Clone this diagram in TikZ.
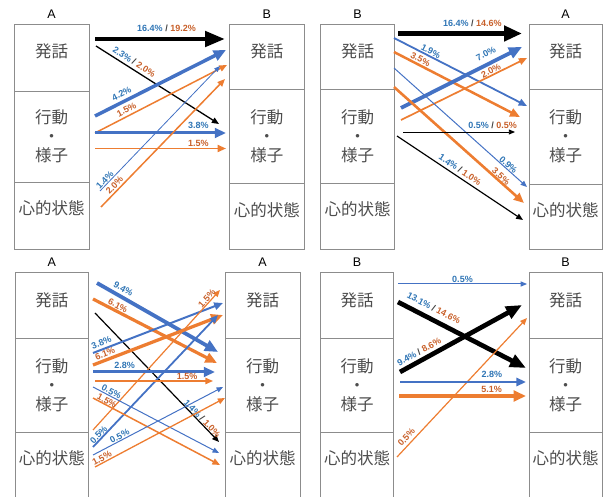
\documentclass[tikz,border=0pt]{standalone}
\usepackage{fontspec}
\usetikzlibrary{arrows.meta}
\newfontfamily\cjkfont{Noto Sans CJK JP}
\newfontfamily\lblfont{Liberation Sans}
\definecolor{lineblue}{HTML}{4472C4}
\definecolor{lineorange}{HTML}{ED7D31}
\definecolor{textblue}{HTML}{2F75B5}
\definecolor{textorange}{HTML}{C8602A}
\definecolor{slashgray}{HTML}{404040}
\definecolor{boxgray}{HTML}{8C8C8C}
\definecolor{cjkgray}{HTML}{4D4D4D}
\newcommand\pcB[1]{\textcolor{textblue}{#1\%}}
\newcommand\pcO[1]{\textcolor{textorange}{#1\%}}
\newcommand\slsh{\ \textcolor{slashgray}{/}\ }
\tikzset{
  fl/.style={-{Triangle[length=4pt 2.4, width=3pt 2.2]}},
  bw/.style={fl, draw=lineblue, line width=#1pt},
  ow/.style={fl, draw=lineorange, line width=#1pt},
  kw/.style={fl, draw=black, line width=#1pt},
  lbl/.style={font=\lblfont\bfseries\fontsize{9}{10}\selectfont, sloped, above, inner xsep=0pt},
  boxline/.style={draw=boxgray, line width=0.9pt},
  hdr/.style={font=\lblfont\fontsize{12.5}{14}\selectfont, inner sep=0pt},
  cjk/.style={font=\cjkfont\fontsize{16.5}{19}\selectfont, text=cjkgray, align=center, inner sep=0pt}
}
\newcommand\colbox[8]{%
  \draw[boxline] (#2,#4) rectangle (#3,#7);
  \draw[boxline] (#2,#5) -- (#3,#5);
  \draw[boxline] (#2,#6) -- (#3,#6);
  \node[hdr] (#1h) at ({(#2+#3)/2},{#4-10}) {#8};
  \node[cjk] (#1a) at ({(#2+#3)/2},{#4+27.5}) {発話};
  \node[cjk] (#1b) at ({(#2+#3)/2},{(#5+#6)/2}) {行動\\・\\様子};
  \node[cjk] (#1c) at ({(#2+#3)/2},{#6+26}) {心的状態};
}
\newcommand\flow[7]{%
  \coordinate (#1s) at (#3);
  \coordinate (#1e) at (#4);
  \draw[#2] (#1s) -- node[lbl, pos=#5, inner ysep=#6pt] (#1l) {#7} (#1e);
}
\begin{document}
\begin{tikzpicture}[x=1pt, y=-1pt]
\useasboundingbox (0,0) rectangle (606,497);
% boxes
\colbox{pa}{14}{89.3}{24}{91}{182}{249}{A}
\colbox{pb}{229.3}{304.3}{24}{89.3}{183.7}{249}{B}
\colbox{pc}{320.7}{394.3}{24}{89.3}{183.3}{249}{B}
\colbox{pd}{529.3}{602}{24}{89}{184}{249}{A}
\colbox{pe}{15}{88.7}{272.7}{338.7}{432}{499}{A}
\colbox{pf}{225}{300}{272.7}{338}{432}{499}{A}
\colbox{pg}{320.7}{393.3}{272.7}{338}{432}{499}{B}
\colbox{ph}{529}{602}{272.7}{338}{432}{499}{B}
% panel 1
\flow{a1}{kw=4.7, -{Triangle[length=20pt,width=15pt]}}{95,39}{225,39}{0.55}{5}{\pcB{16.4}\slsh\pcO{19.2}}
\flow{a2}{kw=1.3}{96,46}{219,124}{0.28}{3}{\pcB{2.3}\slsh\pcO{2.0}}
\flow{a3}{bw=3.5}{95,116}{226,50}{0.23}{3}{\pcB{4.2}}
\flow{a4}{ow=1.5}{95,133}{227,65}{0.26}{2.3}{\pcO{1.5}}
\flow{a5}{bw=3}{95,133}{226,133}{0.79}{3.3}{\pcB{3.8}}
\flow{a6}{ow=1.8}{95,148.5}{226,148.5}{0.79}{1.5}{\pcO{1.5}}
\flow{a7}{bw=0.8}{100,191}{220,66}{0.065}{0.5}{\pcB{1.4}}
\flow{a8}{ow=1.5}{101,207}{225,79}{0.14}{1.5}{\pcO{2.0}}
% panel 2
\flow{b1}{kw=4.7, -{Triangle[length=18pt,width=15pt]}}{398,33.5}{522,33.5}{0.6}{4.8}{\pcB{16.4}\slsh\pcO{14.6}}
\flow{b2}{bw=1.8}{394,38}{527,106}{0.26}{0.8}{\pcB{1.9}}
\flow{b3}{ow=2.5}{394,52}{520,117}{0.19}{1.1}{\pcO{3.5}}
\flow{b4}{bw=3.8}{401,108}{522,47}{0.74}{5}{\pcB{7.0}}
\flow{b5}{ow=1.7}{401,120}{527,58}{0.73}{0.3}{\pcO{2.0}}
\flow{b6}{bw=1.0}{394,68}{527,187}{0.84}{0.3}{\pcB{0.9}}
\flow{b7}{ow=2.6}{394,87}{524,203}{0.8}{0}{\pcO{3.5}}
\flow{b8}{kw=0.9}{403,132}{515,132}{0.8}{3}{\pcB{0.5}\slsh\pcO{0.5}}
\flow{b9}{kw=1.2}{397,136}{523,220}{0.47}{3}{\pcB{1.4}\slsh\pcO{1.0}}
% panel 3
\flow{c1}{bw=3.8}{97,283}{218,352}{0.185}{2.9}{\pcB{9.4}}
\flow{c2}{ow=3.2}{93,299}{217,363}{0.18}{0.8}{\pcO{6.1}}
\flow{c3}{kw=1.2}{95,313}{219,442}{0.84}{0.3}{\pcB{1.4}\slsh\pcO{1.0}}
\flow{c4}{bw=2.0}{93,353}{223,303}{0.083}{2.3}{\pcB{3.8}}
\flow{c5}{ow=3.3}{93,365}{223,315}{0.11}{1.5}{\pcO{6.1}}
\flow{c6}{ow=1.2}{93,430}{220,290}{0.92}{0.3}{\pcO{1.5}}
\flow{c7}{bw=1.8}{93,447}{218,315}{0.07}{0.2}{\pcB{0.5}}
\flow{c8}{bw=3.0}{93,372}{215,372}{0.26}{2.3}{\pcB{2.8}}
\flow{c9}{ow=1.5}{95,381}{213,381}{0.78}{0.3}{\pcO{1.5}}
\flow{c10}{bw=1.0}{93,387}{219,453}{0.13}{0.8}{\pcB{0.5}}
\flow{c11}{ow=1.5}{93,398}{220,465}{0.095}{0}{\pcO{1.5}}
\flow{c12}{bw=1.0}{93,455}{223,387}{0.22}{0.6}{\pcB{0.5}}
\flow{c13}{ow=1.3}{95,467}{225,398}{0.07}{0.8}{\pcO{1.5}}
% panel 4
\flow{d1}{bw=1.0}{398,284}{527,284}{0.5}{1.3}{\pcB{0.5}}
\flow{d2}{kw=4.7, -{Triangle[length=16pt,width=13pt]}}{398,302}{526,368}{0.24}{5.4}{\pcB{13.1}\slsh\pcO{14.6}}
\flow{d3}{kw=4.7, -{Triangle[length=16pt,width=13pt]}}{400,372}{522,305}{0.19}{3}{\pcB{9.4}\slsh\pcO{8.6}}
\flow{d4}{ow=1.2}{397,457}{527,318}{0.11}{3}{\pcO{0.5}}
\flow{d5}{bw=2.3}{400,382}{526,382}{0.73}{3.3}{\pcB{2.8}}
\flow{d6}{ow=3.5}{399,396}{526,396}{0.73}{1.6}{\pcO{5.1}}
\end{tikzpicture}
\end{document}
